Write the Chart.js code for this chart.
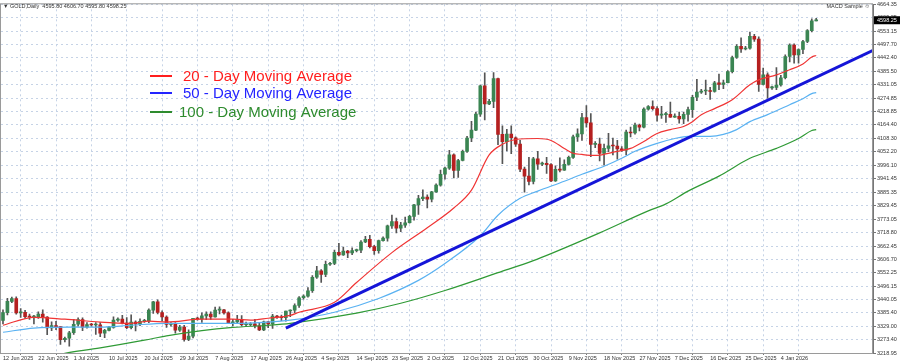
<!DOCTYPE html>
<html>
<head>
<meta charset="utf-8">
<script src="https://cdn.jsdelivr.net/npm/chart.js@4.4.1/dist/chart.umd.min.js"></script>
<style>
  html, body { margin: 0; padding: 0; background: #fff; }
</style>
</head>
<body>
<canvas id="chart" width="900" height="363"></canvas>
<script>
// GOLD daily candles, 12 Jun 2025 .. 13 Jan 2026 (broker shows Sunday bars)
const openP = [
  3354,3386,3433,3445,3385,3388,3370,3368,3368,3380,
  3368,3323,3333,3328,3274,3280,3303,3338,3357,3326,
  3337,3335,3336,3301,3313,3325,3355,3360,3343,3324,
  3347,3339,3350,3352,3397,3431,3387,3368,3337,3340,
  3314,3326,3275,3289,3363,3360,3373,3380,3369,3397,
  3398,3385,3343,3348,3356,3336,3336,3340,3332,3315,
  3348,3339,3372,3368,3365,3393,3397,3416,3448,3455,
  3477,3533,3560,3545,3587,3590,3636,3626,3641,3634,
  3643,3645,3679,3690,3660,3643,3685,3695,3746,3764,
  3736,3749,3759,3785,3833,3859,3865,3857,3887,3915,
  3960,3985,4040,3976,4017,4055,4110,4143,4209,4326,
  4251,4262,4356,4125,4095,4126,4111,4085,3981,3952,
  3930,4024,4002,4005,4000,3932,3980,3977,4001,4030,
  4115,4127,4195,4173,4084,4085,4046,4067,4078,4077,
  4065,4060,4135,4131,4164,4155,4230,4240,4232,4205,
  4207,4208,4197,4200,4189,4208,4228,4279,4300,4305,
  4305,4303,4339,4332,4339,4385,4444,4490,4479,4482,
  4532,4520,4332,4372,4318,4320,4330,4360,4448,4495,
  4455,4477,4510,4555,4595.8
];
const highP = [
  3398,3446,3451,3452,3403,3396,3380,3375,3390,3398,
  3370,3348,3350,3329,3285,3309,3358,3365,3365,3345,
  3342,3345,3345,3317,3330,3369,3365,3375,3366,3377,
  3352,3361,3358,3402,3433,3439,3394,3373,3345,3345,
  3334,3334,3315,3363,3368,3385,3390,3390,3409,3410,
  3400,3390,3358,3375,3374,3347,3345,3358,3345,3351,
  3350,3379,3375,3376,3393,3398,3423,3453,3460,3490,
  3540,3578,3565,3600,3595,3646,3674,3658,3645,3655,
  3650,3685,3703,3707,3665,3687,3700,3749,3791,3778,
  3761,3782,3790,3835,3872,3895,3875,3889,3920,3977,
  3990,4059,4045,4022,4060,4117,4179,4218,4330,4380,
  4270,4381,4359,4161,4146,4161,4115,4100,3990,4030,
  4030,4055,4010,4030,4004,3995,4028,4020,4035,4122,
  4148,4212,4245,4211,4095,4110,4085,4130,4110,4100,
  4075,4143,4155,4172,4168,4235,4245,4264,4240,4241,
  4217,4259,4210,4218,4218,4238,4287,4353,4312,4350,
  4320,4345,4375,4350,4390,4450,4497,4525,4490,4549,
  4540,4530,4400,4380,4325,4402,4370,4455,4500,4500,
  4480,4515,4560,4604,4606.7
];
const lowP = [
  3340,3377,3428,3380,3366,3362,3358,3340,3362,3347,
  3295,3312,3316,3255,3265,3247,3296,3330,3311,3322,
  3330,3296,3287,3282,3310,3322,3350,3340,3320,3319,
  3310,3332,3346,3345,3383,3381,3351,3325,3330,3301,
  3308,3268,3270,3281,3355,3346,3357,3358,3367,3381,
  3380,3341,3331,3344,3331,3330,3332,3323,3311,3311,
  3324,3321,3362,3353,3351,3370,3386,3408,3442,3450,
  3470,3528,3511,3535,3582,3585,3621,3623,3614,3627,
  3638,3635,3676,3655,3628,3633,3683,3683,3735,3717,
  3722,3739,3757,3770,3793,3850,3820,3845,3885,3910,
  3940,3980,3945,3947,4015,4050,4095,4141,4200,4185,
  4248,4236,4083,4004,4057,4045,4075,3971,3886,3916,
  3920,3980,3995,3963,3929,3930,3970,3976,3998,4025,
  4096,4100,4155,4033,4070,4015,3998,4053,4040,4022,
  4055,4040,4115,4126,4140,4152,4225,4225,4180,4191,
  4175,4195,4195,4172,4170,4180,4195,4265,4295,4290,
  4270,4300,4310,4315,4338,4380,4440,4465,4475,4478,
  4510,4303,4330,4275,4312,4310,4325,4355,4425,4420,
  4420,4460,4505,4550,4595.8
];
const closeP = [
  3386,3433,3445,3385,3388,3370,3368,3368,3380,3368,
  3323,3333,3328,3274,3280,3303,3338,3357,3326,3337,
  3335,3336,3301,3313,3325,3355,3360,3343,3324,3347,
  3339,3350,3352,3397,3431,3387,3368,3337,3340,3314,
  3326,3275,3289,3363,3360,3373,3380,3369,3397,3398,
  3385,3343,3348,3356,3336,3336,3340,3332,3315,3348,
  3339,3372,3368,3365,3393,3397,3416,3448,3455,3477,
  3533,3560,3545,3587,3590,3636,3626,3641,3634,3643,
  3645,3679,3690,3660,3643,3685,3695,3746,3764,3736,
  3749,3759,3785,3833,3859,3865,3857,3887,3915,3960,
  3985,4040,3976,4017,4055,4110,4143,4209,4326,4251,
  4262,4356,4125,4095,4126,4111,4085,3981,3952,3930,
  4024,4002,4005,4000,3932,3980,3977,4001,4030,4115,
  4127,4195,4173,4084,4085,4046,4067,4078,4077,4065,
  4060,4135,4131,4164,4155,4230,4240,4232,4205,4207,
  4208,4197,4200,4189,4208,4228,4279,4300,4305,4305,
  4303,4339,4332,4339,4385,4444,4490,4479,4482,4532,
  4520,4332,4372,4318,4320,4330,4360,4448,4495,4455,
  4477,4510,4555,4595.8,4598.25
];

// date labels sit on every 8th bar
const xTickLabels = [
  '12 Jun 2025','22 Jun 2025','1 Jul 2025','10 Jul 2025','20 Jul 2025','29 Jul 2025',
  '7 Aug 2025','17 Aug 2025','26 Aug 2025','4 Sep 2025','14 Sep 2025','23 Sep 2025',
  '2 Oct 2025','12 Oct 2025','21 Oct 2025','30 Oct 2025','9 Nov 2025','18 Nov 2025',
  '27 Nov 2025','7 Dec 2025','16 Dec 2025','25 Dec 2025','4 Jan 2026'
];
const yTickLabels = [
  '4664.35','4609.25','4553.15','4497.70','4442.40','4385.50','4331.05','4274.85','4218.85',
  '4164.40','4108.30','4052.20','3996.10','3941.45','3885.35','3829.45','3773.05','3718.80',
  '3662.45','3606.70','3552.25','3496.15','3440.05','3385.40','3329.00','3273.40','3218.95'
];

// moving averages (bar index -> price)
const ma20Bars = [0,7,14,22,29,33,37,45,52,56,60,65,67,75,80,88,96,102,106,110,113,116,121,124,127,129,131,134,139,142,145,148,151,154,156,158,161,165,169,171,175,178,181,183,184];
const ma20Vals = [3334,3367,3359,3347,3342,3351,3347,3359,3359,3355,3363,3375,3388,3429,3511,3635,3738,3820,3894,4040,4084,4104,4108,4100,4067,4047,4042,4038,4055,4067,4096,4129,4145,4158,4178,4207,4232,4269,4331,4351,4372,4393,4417,4446,4452];
const ma50Bars = [0,7,15,22,29,37,45,52,60,65,75,85,94,100,108,112,117,121,127,131,136,140,143,148,152,155,160,163,166,169,173,178,181,183,184];
const ma50Vals = [3305,3322,3326,3326,3334,3342,3342,3342,3347,3355,3388,3445,3520,3590,3705,3790,3860,3890,3931,3960,3993,4026,4055,4088,4108,4117,4117,4125,4145,4178,4207,4248,4273,4294,4298];
const ma100Bars = [11,14,22,32,37,45,52,60,65,80,90,100,112,120,124,135,146,150,155,162,169,175,180,183,184];
const ma100Vals = [3208,3218,3240,3272,3290,3312,3325,3334,3342,3384,3425,3478,3552,3602,3631,3717,3808,3837,3890,3952,4026,4067,4108,4141,4145];

// hand-drawn support trendline
const trendBars = [64, 197];
const trendVals = [3322, 4475];

const FONT = "'Liberation Sans', Arial, sans-serif";
const BULL = '#3a8552', BEAR = '#b52020', WICK = '#555555';

const pts = (xs, ys) => xs.map((x, i) => ({ x: x, y: ys[i] }));
const wicks = closeP.map((c, i) => ({ x: i, y: [lowP[i], highP[i]] }));
const bodies = closeP.map((c, i) => ({ x: i, y: [openP[i], c] }));
const candleColor = ctx => closeP[ctx.dataIndex] >= openP[ctx.dataIndex] ? BULL : BEAR;

// text overlays: header, legend, price box
const overlay = {
  id: 'overlay',
  afterDraw(chart) {
    const ctx = chart.ctx;
    const a = chart.chartArea;
    ctx.save();
    ctx.strokeStyle = '#9a9a9a';
    ctx.lineWidth = 1;
    ctx.strokeRect(a.left - 0.5, a.top - 0.5, a.right - a.left, a.bottom - a.top + 1);

    ctx.fillStyle = '#333';
    ctx.font = '5.5px ' + FONT;
    ctx.textBaseline = 'middle';
    ctx.textAlign = 'left';
    ctx.fillText('\u25BC GOLD,Daily  4595.80 4606.70 4595.80 4598.25', 3, 6);
    ctx.textAlign = 'right';
    ctx.fillText('MACD Sample \u263A', 870, 6);

    const legend = [
      ['20 - Day Moving Average', '#ff1e1e', 76],
      ['50 - Day Moving Average', '#2424ff', 93],
      ['100 - Day Moving Average', '#2e8b2e', 112]
    ];
    ctx.font = '15px ' + FONT;
    ctx.textAlign = 'left';
    legend.forEach(([txt, col, y]) => {
      ctx.strokeStyle = col;
      ctx.lineWidth = 2;
      ctx.beginPath();
      ctx.moveTo(150, y);
      ctx.lineTo(172, y);
      ctx.stroke();
      ctx.fillStyle = col;
      ctx.fillText(txt, txt.startsWith('100') ? 179 : 183, y + 1);
    });

    const last = closeP[closeP.length - 1];
    const py = chart.scales.y.getPixelForValue(last);
    ctx.fillStyle = '#000';
    ctx.fillRect(a.right + 1, py - 4, 26, 8);
    ctx.fillStyle = '#fff';
    ctx.font = '5.5px ' + FONT;
    ctx.fillText(last.toFixed(2), a.right + 4, py + 0.5);
    ctx.restore();
  }
};

new Chart(document.getElementById('chart'), {
  type: 'bar',
  data: {
    datasets: [
      { type: 'line', data: pts(trendBars, trendVals), borderColor: '#1515d8', borderWidth: 3, pointRadius: 0, order: 0 },
      { type: 'line', data: pts(ma20Bars, ma20Vals), borderColor: '#f03434', borderWidth: 1.2, pointRadius: 0, cubicInterpolationMode: 'monotone', order: 1 },
      { type: 'line', data: pts(ma50Bars, ma50Vals), borderColor: '#5ab2f2', borderWidth: 1.2, pointRadius: 0, cubicInterpolationMode: 'monotone', order: 1 },
      { type: 'line', data: pts(ma100Bars, ma100Vals), borderColor: '#2f9a35', borderWidth: 1.2, pointRadius: 0, cubicInterpolationMode: 'monotone', order: 1 },
      { data: bodies, backgroundColor: candleColor, barThickness: 3, minBarLength: 1, grouped: false, order: 2 },
      { data: wicks, backgroundColor: WICK, barThickness: 1, grouped: false, order: 3 }
    ]
  },
  options: {
    responsive: false,
    animation: false,
    devicePixelRatio: 1,
    layout: { padding: { left: 1, top: 2, right: 0, bottom: 0 } },
    plugins: { legend: { display: false }, tooltip: { enabled: false } },
    scales: {
      x: {
        type: 'linear',
        min: -0.45,
        max: 196.85,
        offset: false,
        afterBuildTicks: s => { s.ticks = xTickLabels.map((_, k) => ({ value: k * 8 })); },
        afterFit: s => { s.height = 10; },
        ticks: {
          autoSkip: false, maxRotation: 0, align: 'start', padding: 0,
          font: { family: FONT, size: 5.5 }, color: '#333',
          callback: (v, i) => xTickLabels[i]
        },
        grid: { color: '#c6d3e6', tickLength: 2, tickColor: '#777' },
        border: { display: true, color: '#777', dash: [2, 3] }
      },
      y: {
        position: 'right',
        min: 3218.95,
        max: 4664.35,
        afterBuildTicks: s => { s.ticks = yTickLabels.map(t => ({ value: parseFloat(t) })); },
        afterFit: s => { s.width = 27; },
        ticks: {
          padding: 1, font: { family: FONT, size: 5.5 }, color: '#333',
          callback: v => v.toFixed(2)
        },
        grid: { color: '#c6d3e6', tickLength: 3, tickColor: '#777' },
        border: { display: true, color: '#777', dash: [2, 3] }
      }
    }
  },
  plugins: [overlay]
});
</script>
</body>
</html>
